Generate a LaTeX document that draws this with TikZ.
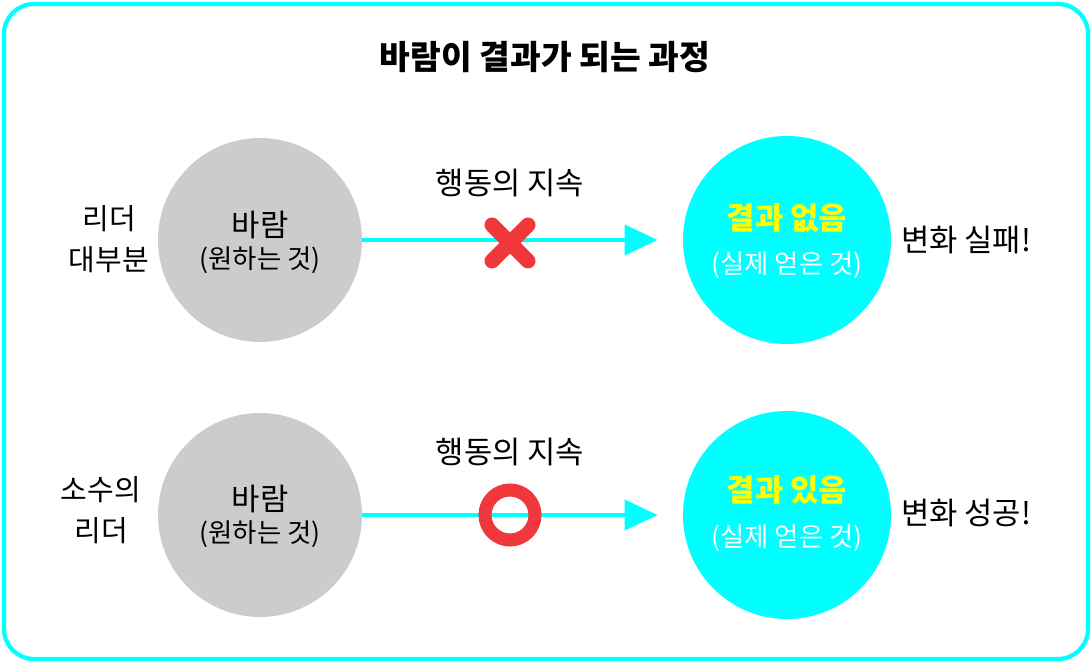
\documentclass[tikz,border=0pt]{standalone}
\usepackage{fontspec}
\setmainfont{Noto Sans CJK KR}
\usetikzlibrary{arrows.meta}
\definecolor{aqua}{RGB}{0,255,255}
\definecolor{wishgray}{RGB}{204,204,204}
\definecolor{markred}{RGB}{240,56,60}
\definecolor{hiyellow}{RGB}{255,255,0}
\tikzset{
  wish/.style={circle,fill=wishgray,minimum size=4.08cm,inner sep=0pt},
  result/.style={circle,fill=aqua,minimum size=4.16cm,inner sep=0pt},
  side/.style={align=center,font=\fontsize{17.5}{22}\selectfont},
  inner/.style={align=center,font=\fontsize{15}{21}\selectfont},
  leader/.style={align=center,font=\fontsize{16.5}{23}\selectfont},
  flow/.style={draw=aqua,line width=2.2pt,-{Triangle[length=0.66cm,width=0.6cm]},shorten >=0.5cm}
}
\begin{document}
\begin{tikzpicture}
  \useasboundingbox (0,0) rectangle (21.84,-13.26);
  \draw[aqua,line width=2.4pt,rounded corners=0.6cm] (0.08,-0.08) rectangle (21.76,-13.18);
  \node[font=\fontsize{19}{24}\selectfont\bfseries] (title) at (10.9,-1.14) {바람이 결과가 되는 과정};
  % upper row
  \node[wish] (w1) at (5.2,-4.8) {};
  \node[side] at (5.2,-4.5) {바람};
  \node[inner] at (5.2,-5.2) {(원하는 것)};
  \node[result] (r1) at (15.74,-4.8) {};
  \node[side,font=\fontsize{17.5}{22}\selectfont\bfseries,text=hiyellow] at (15.74,-4.36) {결과 없음};
  \node[inner,text=white] at (15.74,-5.3) {(실제 얻은 것)};
  \node[leader] (l1) at (2.18,-4.78) {리더\\대부분};
  \node[side] (f1) at (19.32,-4.8) {변화 실패!};
  \draw[flow] (w1.east) -- (r1.west);
  \node[side] (a1) at (10.2,-3.66) {행동의 지속};
  \draw[markred,line width=0.3cm,line cap=round] (9.84,-4.5) -- (10.56,-5.22) (9.84,-5.22) -- (10.56,-4.5);
  % lower row
  \node[wish] (w2) at (5.2,-10.3) {};
  \node[side] at (5.2,-9.98) {바람};
  \node[inner] at (5.2,-10.68) {(원하는 것)};
  \node[result] (r2) at (15.74,-10.3) {};
  \node[side,font=\fontsize{17.5}{22}\selectfont\bfseries,text=hiyellow] at (15.74,-9.8) {결과 있음};
  \node[inner,text=white] at (15.74,-10.76) {(실제 얻은 것)};
  \node[leader] (l2) at (2.02,-10.2) {소수의\\리더};
  \node[side] (f2) at (19.32,-10.26) {변화 성공!};
  \draw[flow] (w2.east) -- (r2.west);
  \node[side] (a2) at (10.2,-9.04) {행동의 지속};
  \draw[markred,line width=0.26cm] (10.2,-10.3) circle (0.5cm);
\end{tikzpicture}
\end{document}
